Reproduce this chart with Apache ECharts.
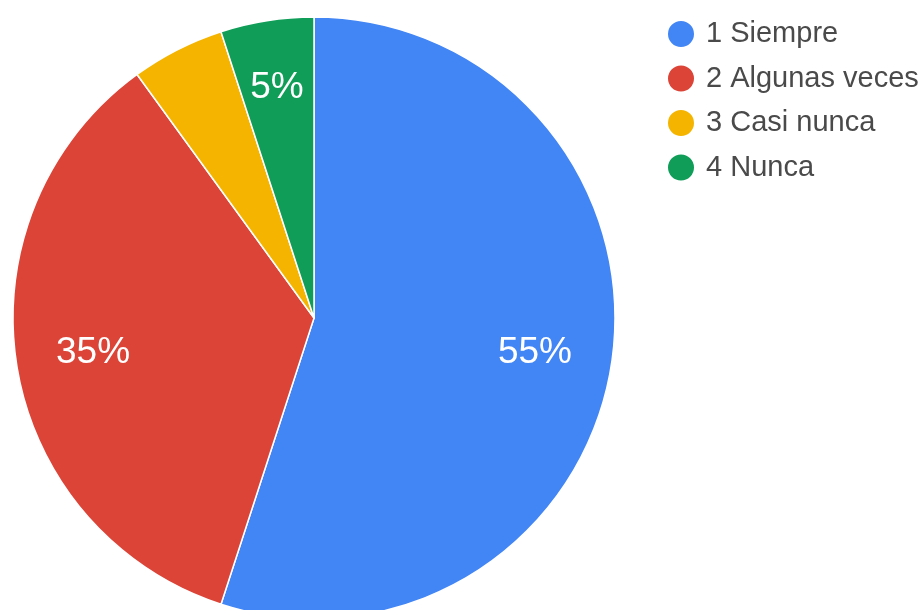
<!DOCTYPE html>
<html>
<head>
<meta charset="utf-8">
<script src="https://cdn.jsdelivr.net/npm/echarts@6/dist/echarts.min.js"></script>
<style>
html,body{margin:0;padding:0;background:#fff;}
#chart{width:923px;height:610px;}
</style>
</head>
<body>
<div id="chart"></div>
<script>
var categories = ['1 Siempre', '2 Algunas veces', '3 Casi nunca', '4 Nunca'];
var values = [11, 7, 1, 1];
var colors = ['#4285f4', '#db4437', '#f4b400', '#0f9d58'];

var chart = echarts.init(document.getElementById('chart'), null, {renderer: 'canvas'});
var cx = 314, cy = 318, R = 301;

var pieData = categories.map(function (c, i) {
  return { name: c, value: values[i], itemStyle: { color: colors[i] } };
});
var labelData = categories.map(function (c, i) {
  var item = { name: c, value: values[i] };
  if (i === 2) item.label = { show: false };
  if (i === 3) item.label = { offset: [-2, -9] };
  return item;
});

chart.setOption({
  animation: false,
  backgroundColor: '#ffffff',
  legend: {
    orient: 'vertical',
    left: 661,
    top: 14,
    icon: 'circle',
    itemWidth: 28,
    itemHeight: 28,
    itemGap: 14.5,
    data: categories,
    textStyle: {
      fontFamily: 'Liberation Sans, Arial, sans-serif',
      fontSize: 29,
      color: '#4a4a4a',
      padding: [0, 0, 0, 6]
    },
    selectedMode: false
  },
  series: [
    {
      type: 'pie',
      center: [cx, cy],
      radius: [0, R],
      startAngle: 90,
      clockwise: true,
      avoidLabelOverlap: false,
      label: { show: false },
      labelLine: { show: false },
      emphasis: { disabled: true },
      itemStyle: { borderColor: '#ffffff', borderWidth: 1.5 },
      data: pieData
    },
    {
      type: 'pie',
      center: [cx, cy],
      radius: [R / 2 - 10, R],
      startAngle: 90,
      clockwise: true,
      silent: true,
      avoidLabelOverlap: false,
      itemStyle: { color: 'rgba(0,0,0,0)', borderWidth: 0 },
      labelLine: { show: false },
      emphasis: { disabled: true },
      label: {
        show: true,
        position: 'inside',
        color: '#ffffff',
        fontFamily: 'Liberation Sans, Arial, sans-serif',
        fontSize: 37,
        formatter: function (p) { return Math.round(p.percent) + '%'; }
      },
      data: labelData
    }
  ]
});
</script>
</body>
</html>
